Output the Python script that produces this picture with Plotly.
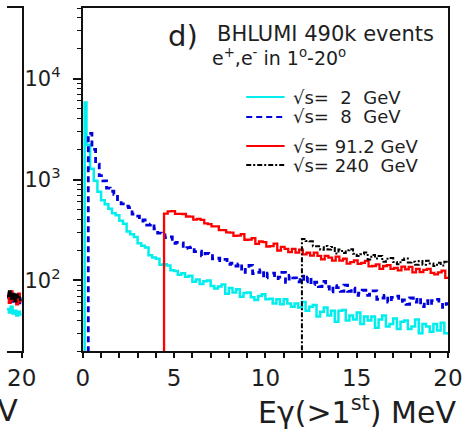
import math
import plotly.graph_objects as go

# ---------------- data ----------------
BIN = 0.2  # MeV, histogram bin width

# sqrt(s) = 2 GeV : narrow first bin 0.1-0.2 MeV, then 0.2 MeV bins from 0.2
cyan_spike_edges = [0.1, 0.2]
cyan_spike = 5800
cyan_start = 0.2
cyan_vals = [2210, 1280, 973, 758, 623, 567, 512, 462, 442, 391,
             365, 305, 287, 269, 234, 221, 212, 178, 169, 164,
             143, 145, 141, 126, 124, 114, 118, 109, 111, 97,
             102, 92, 98, 100, 88, 83, 87, 91, 74, 84,
             76, 82, 69, 75, 76, 68, 64, 70, 73, 65,
             66, 59, 65, 58, 65, 59, 55, 59, 54, 61,
             50, 55, 57, 44, 49, 54, 45, 50, 39, 50,
             51, 40, 45, 41, 48, 37, 44, 40, 44, 34,
             41, 45, 35, 37, 42, 33, 39, 40, 33, 35,
             41, 30, 37, 35, 31, 37, 32, 38, 30]

# sqrt(s) = 8 GeV
blue_start = 0.3
blue_vals = [2870, 1990, 1421, 1090, 970, 820, 765, 713, 632, 574,
             545, 527, 454, 433, 388, 397, 354, 362, 325, 294,
             292, 265, 270, 233, 238, 236, 208, 211, 214, 193,
             195, 175, 185, 184, 164, 166, 157, 162, 144, 148,
             139, 146, 120, 133, 141, 117, 120, 127, 106, 118,
             118, 104, 108, 120, 96, 112, 106, 97, 110, 97,
             108, 91, 96, 87, 98, 87, 77, 89, 85, 78,
             90, 78, 84, 71, 75, 80, 71, 73, 79, 65,
             67, 71, 61, 68, 70, 62, 64, 58, 67, 61,
             67, 55, 63, 57, 63, 65, 58, 54, 59]

# sqrt(s) = 91.2 GeV
red_start = 4.45
red_vals = [459, 483, 487, 457, 457, 455, 430, 428, 401, 408,
            398, 367, 361, 344, 343, 315, 315, 299, 297, 276,
            278, 287, 253, 254, 262, 230, 243, 240, 217, 219,
            232, 198, 215, 205, 191, 205, 189, 202, 181, 188,
            176, 189, 175, 162, 175, 168, 157, 172, 157, 164,
            147, 152, 158, 146, 149, 156, 138, 139, 144, 130,
            139, 142, 130, 133, 126, 137, 129, 136, 120, 130,
            121, 127, 130, 119, 115, 120, 125, 106]

# sqrt(s) = 240 GeV
black_start = 12.0
black_vals = [258, 246, 245, 218, 218, 201, 219, 203, 215, 185,
              202, 187, 199, 204, 184, 175, 182, 189, 161, 179,
              165, 175, 153, 164, 167, 152, 145, 159, 165, 151,
              153, 143, 156, 143, 157, 147, 139, 150, 141, 153]

# right edge of the neighbouring panel (c), 19.2-20 MeV, 0.1 MeV bins
prev_start = 19.2
prev_bin = 0.1
prev_cyan = [52, 48, 55, 47, 50, 45, 49, 46]
prev_blue = [68, 74, 62, 70, 64, 72, 60, 66]
prev_red = [72, 60, 78, 64, 70, 58, 74, 62]
prev_black = [70, 78, 66, 74, 62, 72, 68, 64]

legend_labels = ["√s=\u00a0\u00a02\u00a0\u00a0GeV", "√s=\u00a0\u00a08\u00a0\u00a0GeV",
                 "√s= 91.2 GeV", "√s= 240\u00a0\u00a0GeV"]
x_ticks = [0, 5, 10, 15, 20]
y_ticks = [100, 1000, 10000]
y_ticktext = ["10<sup>2</sup>", "10<sup>3</sup>", "10<sup>4</sup>"]

# ---------------- styles ----------------
COLORS = ["#00eeee", "#0000dd", "#ff0000", "#000000"]
DASHES = ["solid", "6px,4px", "solid", "5px,2px,2px,2px"]
WIDTHS = [2.5, 2.8, 2.3, 2]
FONT = "DejaVu Sans"
TXT = "#1e1e1e"


def hist_xy(edges, vals, floor=1.0):
    """step-line (hv) coordinates for a histogram rising from below the axis"""
    x = [edges[0]] + list(edges[:-1]) + [edges[-1]]
    y = [floor] + list(vals) + [vals[-1]]
    return x, y


def regular_edges(start, n, w):
    return [round(start + i * w, 4) for i in range(n + 1)]


cyan_edges = cyan_spike_edges + regular_edges(cyan_start, len(cyan_vals), BIN)[1:]
series = [
    (cyan_edges, [cyan_spike] + cyan_vals),
    (regular_edges(blue_start, len(blue_vals), BIN), blue_vals),
    (regular_edges(red_start, len(red_vals), BIN), red_vals),
    (regular_edges(black_start, len(black_vals), BIN), black_vals),
]

fig = go.Figure()
for (edges, vals), c, d, w in zip(series, COLORS, DASHES, WIDTHS):
    x, y = hist_xy(edges, vals)
    fig.add_trace(go.Scatter(x=x, y=y, mode="lines", line=dict(color=c, dash=d, width=w, shape="hv"),
                             showlegend=False, hoverinfo="skip"))

for vals, c, w in zip([prev_cyan, prev_blue, prev_red, prev_black], COLORS, WIDTHS):
    edges = regular_edges(prev_start, len(vals), prev_bin)
    fig.add_trace(go.Scatter(x=edges, y=list(vals) + [vals[-1]], mode="lines",
                             line=dict(color=c, width=w, shape="hv"),
                             xaxis="x2", yaxis="y2", showlegend=False, hoverinfo="skip"))

W, H = 463, 429
ML, MR, MT, MB = 0, 15, 8, 78
PW = W - ML - MR
PH = H - MT - MB


def px(xp):
    return (xp - ML) / PW


def py(yp):
    return (H - MB - yp) / PH


yr = [math.log10(20), math.log10(50000)]
minor_y = [m * 10 ** e for e in range(1, 5) for m in range(2, 10) if 20 <= m * 10 ** e <= 50000]

fig.update_layout(
    width=W, height=H,
    margin=dict(l=ML, r=MR, t=MT, b=MB, pad=0),
    paper_bgcolor="white", plot_bgcolor="white",
    font=dict(family=FONT, color=TXT),
    xaxis=dict(domain=[px(77), 1], range=[-0.0005, 20.0005], showline=True, linewidth=2,
               linecolor="#111", mirror=True, ticks="outside", ticklen=5, tickwidth=1.5,
               tickcolor="#111", tickmode="array", tickvals=x_ticks, ticktext=[str(v) for v in x_ticks],
               tickfont=dict(size=23, family=FONT, color=TXT), ticklabeloverflow="allow",
               showgrid=False, zeroline=False,
               minor=dict(dtick=1, tick0=0, ticks="outside", ticklen=5, tickwidth=1.5,
                          tickcolor="#111", showgrid=False)),
    yaxis=dict(type="log", range=yr, showline=True, linewidth=2, linecolor="#111", mirror=True,
               ticks="outside", ticklen=8, tickwidth=1.5, tickcolor="#111",
               tickvals=y_ticks, ticktext=y_ticktext, ticklabelstandoff=8,
               tickfont=dict(size=21, family=FONT, color=TXT), showgrid=False, zeroline=False,
               minor=dict(tickmode="array", tickvals=minor_y, ticks="outside", ticklen=4,
                          tickwidth=1.2, tickcolor="#111", showgrid=False)),
    xaxis2=dict(domain=[0, px(15)], range=[prev_start, 20.0005], anchor="y2", showline=True,
                linewidth=2, linecolor="#111", mirror=True, ticks="outside", ticklen=5,
                tickwidth=1.5, tickcolor="#111", tickmode="array", tickvals=[20], ticktext=["20"],
                tickfont=dict(size=23, family=FONT, color=TXT), ticklabeloverflow="allow",
                showgrid=False, zeroline=False),
    yaxis2=dict(type="log", range=yr, anchor="x2", side="right", showline=True, linewidth=2,
                linecolor="#111", ticks="", showticklabels=False, showgrid=False, zeroline=False),
)

ann = [
    dict(text="d)", x=px(162), y=py(36), xanchor="left", yanchor="middle", font=dict(size=29)),
    dict(text="BHLUMI 490k events", x=px(211), y=py(34), xanchor="left", yanchor="middle",
         font=dict(size=21)),
    dict(text="e<sup>+</sup>,e<sup>-</sup> in 1<sup>o</sup>-20<sup>o</sup>", x=px(206), y=py(57),
         xanchor="left", yanchor="middle", font=dict(size=19)),
    dict(text="Eγ(>1<sup>st</sup>) MeV", x=px(458), y=py(410), xanchor="right", yanchor="middle",
         font=dict(size=30)),
    dict(text="MeV", x=px(13), y=py(410), xanchor="right", yanchor="middle", font=dict(size=30)),
]
leg_rows = [97, 117, 146, 165]
for lab, row, c, d in zip(legend_labels, leg_rows, COLORS, DASHES):
    fig.add_shape(type="line", xref="paper", yref="paper", x0=px(243), x1=px(282),
                  y0=py(row), y1=py(row), line=dict(color=c, width=2, dash=d))
    ann.append(dict(text=lab, x=px(289), y=py(row), xanchor="left", yanchor="middle",
                    font=dict(size=18)))
for a in ann:
    a.update(xref="paper", yref="paper", showarrow=False)
    a["font"].update(family=FONT, color=TXT)
fig.update_layout(annotations=ann)

fig.write_html("out.html")
